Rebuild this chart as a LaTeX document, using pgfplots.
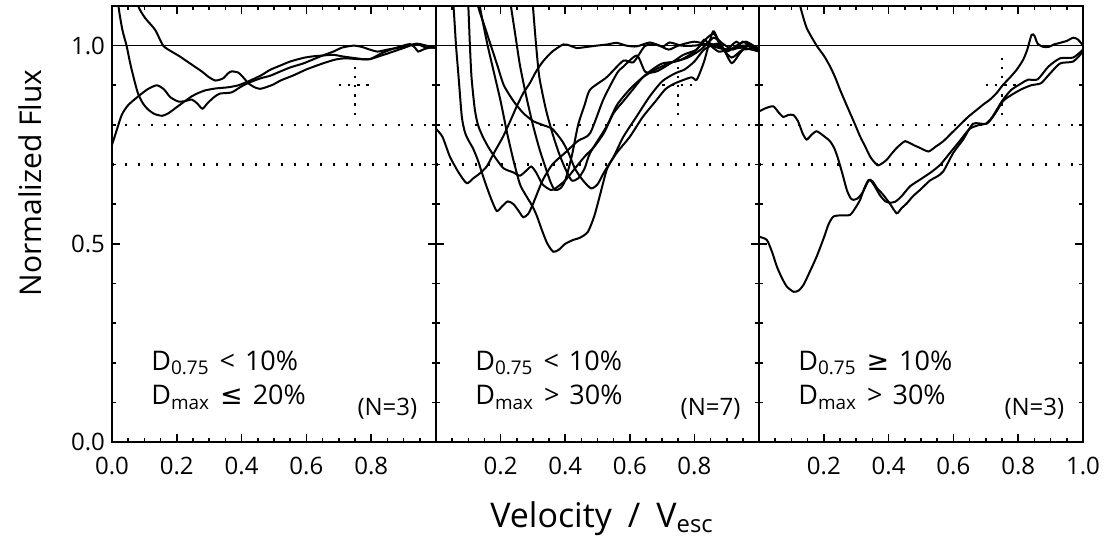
\documentclass[border=0pt]{standalone}
\usepackage{fontspec}
\setmainfont{Open Sans}
\newfontfamily\symfont{DejaVu Sans}
\usepackage{pgfplots}
\pgfplotsset{compat=1.18}
\newcommand\tickfont{\fontsize{12}{14}\selectfont}
\newcommand\annfont{\fontsize{13.5}{16}\selectfont}
\newcommand\titlefont{\fontsize{17}{20}\selectfont}
\newcommand\ytitlefont{\fontsize{15}{18}\selectfont}
\pgfplotsset{
  panel/.style={
    scale only axis, height=218pt,
    xmin=0, xmax=1, ymin=0, ymax=1.1,
    xtick={0,0.2,0.4,0.6,0.8,1.0},
    minor x tick num=3,
    ytick={0,0.5,1.0},
    minor ytick={0.1,0.2,0.3,0.4,0.6,0.7,0.8,0.9},
    tick align=inside, tick pos=both,
    major tick length=4pt, minor tick length=2pt,
    tick style={black, line width=0.8pt},
    axis line style={line width=1pt},
    ticklabel style={font=\tickfont},
    xticklabel style={yshift=-4pt},
  },
  curve/.style={black, no markers, solid, line width=1pt, smooth, tension=0.4},
  dotline/.style={black, no markers, line width=1.2pt, dash pattern=on 1.2pt off 5.3pt, sharp plot},
  crossline/.style={black, no markers, line width=1.2pt, dash pattern=on 1.2pt off 3.4pt, sharp plot},
  thinline/.style={black, no markers, line width=0.5pt, sharp plot},
}
\newcommand\guides{%
  \addplot[thinline] coordinates {(0,1) (1,1)};
  \addplot[dotline] coordinates {(0,0.8) (1,0.8)};
  \addplot[dotline] coordinates {(0,0.7) (1,0.7)};
  \addplot[crossline] coordinates {(0.70,0.9) (0.80,0.9)};
  \addplot[crossline] coordinates {(0.75,0.825) (0.75,0.97)};
}
\begin{document}
\begin{tikzpicture}
\useasboundingbox (-56pt,-56pt) rectangle (497.5pt,221pt);
% ---------------- left panel
\begin{axis}[panel, width=162pt, at={(0pt,0pt)},
  xticklabels={0.0,0.2,0.4,0.6,0.8,},
  yticklabels={0.0,0.5,1.0}]
\guides
\addplot[curve] coordinates {(0.0,1.3)(0.01,1.2)(0.02,1.1)(0.032,1.04)(0.045,1.0)(0.055,0.96)(0.065,0.925)(0.08,0.88)(0.095,0.855)(0.11,0.84)(0.13,0.828)(0.155,0.823)(0.175,0.83)(0.2,0.845)(0.225,0.86)(0.246,0.872)(0.265,0.88)(0.287,0.887)(0.32,0.892)(0.359,0.895)(0.39,0.9)(0.421,0.91)(0.46,0.925)(0.488,0.939)(0.52,0.95)(0.55,0.96)(0.59,0.969)(0.62,0.973)(0.65,0.975)(0.683,0.977)(0.71,0.973)(0.745,0.969)(0.775,0.966)(0.796,0.966)(0.82,0.972)(0.85,0.98)(0.875,0.987)(0.9,0.994)(0.92,1.0)(0.94,1.004)(0.955,1.0)(0.97,0.995)(1.0,0.995)};
\addplot[curve] coordinates {(0.07,1.15)(0.081,1.1)(0.102,1.07)(0.133,1.04)(0.158,1.0)(0.184,0.985)(0.205,0.975)(0.225,0.964)(0.25,0.95)(0.277,0.935)(0.3,0.92)(0.318,0.912)(0.332,0.914)(0.344,0.918)(0.358,0.93)(0.369,0.935)(0.39,0.932)(0.405,0.92)(0.421,0.905)(0.44,0.895)(0.457,0.891)(0.475,0.895)(0.498,0.902)(0.52,0.912)(0.56,0.925)(0.6,0.94)(0.65,0.955)(0.69,0.965)(0.72,0.968)(0.76,0.966)(0.796,0.966)(0.83,0.98)(0.86,0.99)(0.899,1.0)(0.92,1.004)(0.935,0.995)(0.945,0.985)(0.96,0.99)(0.98,0.995)(1.0,0.995)};
\addplot[curve] coordinates {(0.0,0.75)(0.01,0.775)(0.03,0.825)(0.05,0.85)(0.081,0.872)(0.11,0.89)(0.138,0.9)(0.16,0.89)(0.18,0.87)(0.205,0.859)(0.225,0.86)(0.246,0.864)(0.262,0.855)(0.279,0.841)(0.295,0.855)(0.315,0.87)(0.333,0.879)(0.369,0.882)(0.395,0.895)(0.421,0.906)(0.46,0.918)(0.488,0.924)(0.52,0.935)(0.55,0.945)(0.59,0.955)(0.62,0.965)(0.65,0.975)(0.683,0.985)(0.71,0.995)(0.745,1.0)(0.77,0.997)(0.796,0.99)(0.82,0.985)(0.85,0.99)(0.9,0.997)(0.94,1.005)(0.97,1.0)(1.0,0.995)};
\node[anchor=base west, font=\annfont] at (rel axis cs:0.1,0.165) {D\textsubscript{0.75}\hspace{5pt}<\hspace{5pt}10\%};
\node[anchor=base west, font=\annfont] at (rel axis cs:0.1,0.085) {D\textsubscript{max}\hspace{5pt}{\symfont ≤}\hspace{5pt}20\%};
\node[anchor=base, font=\tickfont] at (rel axis cs:0.85,0.06) {(N=3)};
\end{axis}
% ---------------- middle panel
\begin{axis}[panel, width=161.5pt, at={(162pt,0pt)},
  xticklabels={,0.2,0.4,0.6,0.8,},
  yticklabels={,,}]
\guides
\addplot[curve] coordinates {(0,0.79)(0.02,0.77)(0.043,0.72)(0.07,0.68)(0.095,0.653)(0.115,0.665)(0.136,0.678)(0.157,0.695)(0.18,0.73)(0.208,0.771)(0.23,0.81)(0.25,0.847)(0.27,0.88)(0.291,0.906)(0.31,0.935)(0.332,0.961)(0.36,0.985)(0.394,1.003)(0.415,1.0)(0.435,0.994)(0.46,0.996)(0.497,1.0)(0.53,1.003)(0.559,1.007)(0.59,1.0)(0.621,0.998)(0.662,1.008)(0.69,1.0)(0.704,0.998)(0.724,1.008)(0.76,1.0)(0.8,1.0)(0.85,1.005)(0.9,0.99)(0.95,0.995)(1.0,0.985)};
\addplot[curve] coordinates {(0.045,1.15)(0.054,1.1)(0.062,1.0)(0.07,0.92)(0.08,0.82)(0.09,0.78)(0.1,0.762)(0.115,0.74)(0.13,0.71)(0.15,0.66)(0.17,0.615)(0.188,0.583)(0.205,0.595)(0.222,0.607)(0.24,0.6)(0.26,0.578)(0.27,0.567)(0.285,0.575)(0.3,0.6)(0.33,0.66)(0.36,0.7)(0.4,0.73)(0.44,0.76)(0.477,0.779)(0.518,0.864)(0.56,0.93)(0.58,0.947)(0.622,0.975)(0.648,0.934)(0.683,0.935)(0.735,0.96)(0.766,0.977)(0.807,0.99)(0.83,1.015)(0.85,1.0)(0.875,0.985)(0.9,0.99)(0.93,1.01)(0.95,0.995)(0.97,1.005)(1.0,0.99)};
\addplot[curve] coordinates {(0.095,1.15)(0.1,1.1)(0.105,1.0)(0.11,0.92)(0.12,0.84)(0.13,0.8)(0.145,0.77)(0.165,0.74)(0.19,0.71)(0.21,0.69)(0.24,0.68)(0.26,0.672)(0.28,0.685)(0.295,0.695)(0.31,0.68)(0.33,0.65)(0.355,0.636)(0.37,0.64)(0.4,0.66)(0.43,0.69)(0.46,0.72)(0.49,0.745)(0.52,0.78)(0.55,0.83)(0.58,0.86)(0.61,0.89)(0.64,0.92)(0.67,0.94)(0.7,0.955)(0.74,0.96)(0.78,0.97)(0.82,0.99)(0.86,1.02)(0.885,1.0)(0.915,0.956)(0.94,0.98)(0.965,1.0)(1.0,0.99)};
\addplot[curve] coordinates {(0.12,1.15)(0.13,1.1)(0.15,1.05)(0.17,1.0)(0.19,0.95)(0.21,0.9)(0.24,0.86)(0.27,0.83)(0.3,0.81)(0.33,0.8)(0.36,0.79)(0.39,0.76)(0.41,0.73)(0.43,0.69)(0.455,0.66)(0.48,0.64)(0.5,0.65)(0.52,0.68)(0.55,0.72)(0.58,0.77)(0.62,0.82)(0.66,0.87)(0.7,0.91)(0.74,0.93)(0.77,0.94)(0.8,0.96)(0.83,0.99)(0.87,1.005)(0.9,0.985)(0.93,1.0)(0.96,1.01)(1.0,0.99)};
\addplot[curve] coordinates {(0.125,1.15)(0.14,1.08)(0.16,1.0)(0.18,0.93)(0.2,0.86)(0.22,0.78)(0.24,0.71)(0.26,0.65)(0.28,0.62)(0.295,0.6)(0.31,0.575)(0.33,0.53)(0.345,0.5)(0.363,0.48)(0.38,0.485)(0.4,0.5)(0.425,0.51)(0.445,0.515)(0.47,0.53)(0.49,0.57)(0.51,0.63)(0.53,0.69)(0.56,0.73)(0.6,0.77)(0.64,0.82)(0.68,0.86)(0.71,0.89)(0.74,0.905)(0.79,0.92)(0.807,0.914)(0.83,0.96)(0.858,1.036)(0.88,1.0)(0.915,0.97)(0.95,0.99)(1.0,0.99)};
\addplot[curve] coordinates {(0.225,1.15)(0.232,1.1)(0.245,1.03)(0.26,0.95)(0.28,0.87)(0.3,0.8)(0.32,0.74)(0.34,0.69)(0.355,0.655)(0.368,0.636)(0.385,0.64)(0.4,0.66)(0.42,0.72)(0.44,0.8)(0.46,0.85)(0.477,0.889)(0.528,0.92)(0.58,0.962)(0.611,0.958)(0.647,0.999)(0.683,1.003)(0.72,0.99)(0.75,1.0)(0.8,1.01)(0.85,1.0)(0.9,0.99)(0.95,1.0)(1.0,0.995)};
\addplot[curve] coordinates {(0.295,1.15)(0.3,1.1)(0.31,1.0)(0.32,0.92)(0.34,0.84)(0.36,0.78)(0.38,0.73)(0.4,0.69)(0.42,0.66)(0.44,0.665)(0.46,0.69)(0.477,0.729)(0.528,0.796)(0.56,0.85)(0.6,0.89)(0.64,0.92)(0.68,0.94)(0.72,0.955)(0.76,0.965)(0.8,0.985)(0.84,1.02)(0.86,1.03)(0.88,1.01)(0.92,0.99)(0.95,1.01)(0.975,0.995)(1.0,0.99)};
\node[anchor=base west, font=\annfont] at (rel axis cs:0.1,0.165) {D\textsubscript{0.75}\hspace{5pt}<\hspace{5pt}10\%};
\node[anchor=base west, font=\annfont] at (rel axis cs:0.1,0.085) {D\textsubscript{max}\hspace{5pt}>\hspace{5pt}30\%};
\node[anchor=base, font=\tickfont] at (rel axis cs:0.85,0.06) {(N=7)};
\end{axis}
% ---------------- right panel
\begin{axis}[panel, width=162pt, at={(323.5pt,0pt)},
  xticklabels={,0.2,0.4,0.6,0.8,1.0},
  yticklabels={,,}]
\guides
\addplot[curve] coordinates {(0.115,1.15)(0.127,1.1)(0.147,1.045)(0.178,1.0)(0.2,0.975)(0.219,0.948)(0.235,0.92)(0.25,0.889)(0.265,0.86)(0.281,0.83)(0.297,0.8)(0.312,0.771)(0.328,0.745)(0.343,0.72)(0.357,0.705)(0.368,0.698)(0.38,0.703)(0.394,0.712)(0.41,0.728)(0.425,0.742)(0.44,0.753)(0.451,0.759)(0.466,0.754)(0.48,0.748)(0.497,0.742)(0.523,0.733)(0.545,0.745)(0.569,0.759)(0.595,0.78)(0.62,0.8)(0.645,0.82)(0.672,0.838)(0.693,0.852)(0.713,0.864)(0.733,0.88)(0.753,0.901)(0.775,0.92)(0.795,0.939)(0.815,0.964)(0.828,0.99)(0.841,1.027)(0.85,1.025)(0.86,1.005)(0.877,0.997)(0.895,0.997)(0.91,1.003)(0.929,1.007)(0.95,1.012)(0.97,1.02)(0.985,1.015)(1.0,1.0)};
\addplot[curve] coordinates {(0,0.834)(0.02,0.842)(0.044,0.847)(0.06,0.832)(0.075,0.82)(0.09,0.825)(0.106,0.825)(0.12,0.81)(0.135,0.778)(0.147,0.763)(0.162,0.775)(0.178,0.784)(0.2,0.772)(0.219,0.759)(0.233,0.74)(0.245,0.712)(0.258,0.675)(0.271,0.636)(0.282,0.616)(0.291,0.611)(0.305,0.615)(0.32,0.63)(0.335,0.655)(0.343,0.661)(0.355,0.648)(0.373,0.623)(0.39,0.607)(0.404,0.604)(0.42,0.606)(0.44,0.62)(0.466,0.645)(0.497,0.662)(0.53,0.68)(0.56,0.7)(0.59,0.73)(0.62,0.76)(0.65,0.79)(0.68,0.8)(0.7,0.803)(0.72,0.82)(0.75,0.86)(0.778,0.888)(0.81,0.905)(0.83,0.914)(0.86,0.915)(0.893,0.947)(0.929,0.968)(0.97,0.97)(1.0,0.99)};
\addplot[curve] coordinates {(0,0.518)(0.024,0.51)(0.04,0.48)(0.055,0.443)(0.07,0.415)(0.086,0.392)(0.107,0.379)(0.122,0.382)(0.137,0.396)(0.157,0.43)(0.178,0.468)(0.2,0.515)(0.215,0.55)(0.23,0.569)(0.255,0.572)(0.281,0.573)(0.297,0.59)(0.312,0.611)(0.325,0.64)(0.338,0.661)(0.35,0.658)(0.365,0.64)(0.384,0.623)(0.405,0.6)(0.425,0.577)(0.44,0.59)(0.456,0.602)(0.475,0.62)(0.497,0.636)(0.528,0.66)(0.55,0.67)(0.569,0.683)(0.6,0.73)(0.63,0.763)(0.661,0.803)(0.703,0.803)(0.73,0.83)(0.753,0.86)(0.778,0.875)(0.81,0.89)(0.84,0.9)(0.87,0.905)(0.893,0.925)(0.929,0.955)(0.97,0.96)(1.0,0.985)};
\node[anchor=base west, font=\annfont] at (rel axis cs:0.1,0.165) {D\textsubscript{0.75}\hspace{5pt}{\symfont ≥}\hspace{5pt}10\%};
\node[anchor=base west, font=\annfont] at (rel axis cs:0.1,0.085) {D\textsubscript{max}\hspace{5pt}>\hspace{5pt}30\%};
\node[anchor=base, font=\tickfont] at (rel axis cs:0.85,0.06) {(N=3)};
\end{axis}
\node[rotate=90, font=\ytitlefont] at (-41pt,129.5pt) {Normalized Flux};
\node[anchor=base, font=\titlefont] at (245pt,-42.5pt) {Velocity\hspace{8pt}/\hspace{8pt}V\textsubscript{esc}};
\end{tikzpicture}
\end{document}
